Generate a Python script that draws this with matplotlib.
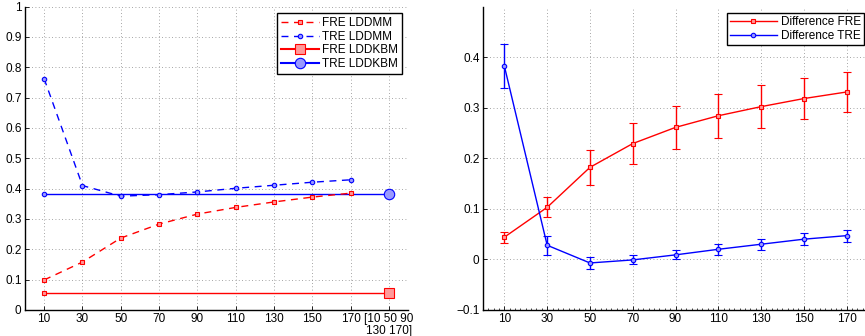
import matplotlib
matplotlib.use("Agg")
import matplotlib.pyplot as plt
import numpy as np
from matplotlib.lines import Line2D
from matplotlib.ticker import AutoMinorLocator

plt.rcParams['font.family'] = ['Liberation Sans', 'DejaVu Sans']
plt.rcParams['font.size'] = 8.5

# left panel data
sizes = ['10', '30', '50', '70', '90', '110', '130', '150', '170']
allLabel = '[10 50 90\n130 170]'
freLddmm = [0.099, 0.158, 0.237, 0.283, 0.316, 0.338, 0.356, 0.372, 0.385]
treLddmm = [0.762, 0.410, 0.375, 0.380, 0.389, 0.401, 0.411, 0.421, 0.429]
freLddkbm = 0.055
treLddkbm = 0.382

# right panel data
diffFre = [0.044, 0.103, 0.182, 0.229, 0.261, 0.284, 0.302, 0.318, 0.331]
diffFreErr = [0.011, 0.020, 0.035, 0.040, 0.042, 0.043, 0.042, 0.041, 0.040]
diffTre = [0.382, 0.028, -0.007, -0.001, 0.009, 0.020, 0.030, 0.040, 0.047]
diffTreErr = [0.044, 0.019, 0.012, 0.009, 0.009, 0.011, 0.011, 0.012, 0.012]

red = (1, 0, 0)
blue = (0, 0, 1)
lightRed = (1, 0.6, 0.6)
lightBlue = (0.6, 0.6, 1)
smallMs = 3.2

W, H = 865, 336
fig = plt.figure(figsize=(W / 100, H / 100), dpi=100)

def px(l, t, r, b):
    return [l / W, 1 - b / H, (r - l) / W, (b - t) / H]

def styleAxes(ax):
    ax.spines['top'].set_visible(False)
    ax.spines['right'].set_visible(False)
    ax.spines['left'].set_linewidth(1.0)
    ax.spines['bottom'].set_linewidth(1.0)
    ax.tick_params(direction='in', length=3, width=0.6, pad=2.5)
    ax.grid(True, linestyle=(0, (1, 3)), color='#888888', linewidth=0.6)
    ax.set_axisbelow(True)

# ---- left panel
ax1 = fig.add_axes(px(25, 6.5, 408, 310))
pos = np.arange(1, len(sizes) + 1)
lastPos = len(sizes) + 1
ax1.plot([1, lastPos], [freLddkbm, freLddkbm], '-', color=red, lw=1.0)
ax1.plot([1, lastPos], [treLddkbm, treLddkbm], '-', color=blue, lw=1.0)
ax1.plot([1], [freLddkbm], 's', color=red, mfc=lightRed, ms=smallMs, mew=0.8)
ax1.plot([1], [treLddkbm], 'o', color=blue, mfc=lightBlue, ms=smallMs, mew=0.8)
ax1.plot(pos, freLddmm, '--', color=red, marker='s', mfc=lightRed, ms=smallMs, mew=0.8,
         lw=1.0, dashes=(5, 4), label='FRE LDDMM')
ax1.plot(pos, treLddmm, '--', color=blue, marker='o', mfc=lightBlue, ms=smallMs, mew=0.8,
         lw=1.0, dashes=(5, 4), label='TRE LDDMM')
ax1.plot([lastPos], [freLddkbm], 's', color=red, mfc=lightRed, ms=6.5, mew=0.8)
ax1.plot([lastPos], [treLddkbm], 'o', color=blue, mfc=lightBlue, ms=7.5, mew=0.8)
# legend proxies
h1, = ax1.plot([], [], '-', color=red, marker='s', mfc=lightRed, ms=6.5, mew=0.8, label='FRE LDDKBM')
h2, = ax1.plot([], [], '-', color=blue, marker='o', mfc=lightBlue, ms=7.5, mew=0.8, label='TRE LDDKBM')
ax1.set_xlim(0.5, lastPos + 0.5)
ax1.set_ylim(0, 1)
ax1.set_xticks(list(pos) + [lastPos])
ax1.set_xticklabels(sizes + [allLabel], linespacing=0.95)
ax1.set_yticks(np.arange(0, 1.01, 0.1))
ax1.set_yticklabels(['0', '0.1', '0.2', '0.3', '0.4', '0.5', '0.6', '0.7', '0.8', '0.9', '1'])
styleAxes(ax1)
leg = ax1.legend(loc='upper right', bbox_to_anchor=(0.99, 0.985), fancybox=False,
                 edgecolor='black', framealpha=1, handlelength=3.2, borderpad=0.3,
                 labelspacing=0.15, handletextpad=0.3, borderaxespad=0.2)
leg.get_frame().set_linewidth(1.0)

# ---- right panel
ax2 = fig.add_axes(px(483, 6.5, 868, 310))
pos2 = np.arange(1, len(sizes) + 1)
ax2.errorbar(pos2, diffFre, yerr=diffFreErr, color=red, marker='s', mfc=lightRed,
             ms=smallMs, mew=0.8, lw=1.0, capsize=3, elinewidth=1.0)
ax2.errorbar(pos2, diffTre, yerr=diffTreErr, color=blue, marker='o', mfc=lightBlue,
             ms=smallMs, mew=0.8, lw=1.0, capsize=3, elinewidth=1.0)
ax2.set_xlim(0.5, len(sizes) + 0.5)
ax2.set_ylim(-0.1, 0.5)
ax2.set_xticks(pos2)
ax2.set_xticklabels(sizes)
ax2.set_yticks([-0.1, 0, 0.1, 0.2, 0.3, 0.4])
ax2.set_yticklabels(['\u22120.1', '0', '0.1', '0.2', '0.3', '0.4'])
styleAxes(ax2)
ax2.xaxis.set_minor_locator(AutoMinorLocator(8))
ax2.tick_params(which='minor', axis='x', direction='in', length=1.5, width=0.5)
handles2 = [
    Line2D([], [], color=red, marker='s', mfc=lightRed, ms=smallMs, mew=0.8, lw=1.0),
    Line2D([], [], color=blue, marker='o', mfc=lightBlue, ms=smallMs, mew=0.8, lw=1.0),
]
leg2 = ax2.legend(handles2, ['Difference FRE', 'Difference TRE'], loc='upper right',
                  bbox_to_anchor=(0.995, 0.985), fancybox=False,
                  edgecolor='black', framealpha=1, handlelength=4.0, borderpad=0.25,
                  labelspacing=0.15, handletextpad=0.3, borderaxespad=0.2)
leg2.get_frame().set_linewidth(1.0)

fig.savefig('out.png', dpi=100)
